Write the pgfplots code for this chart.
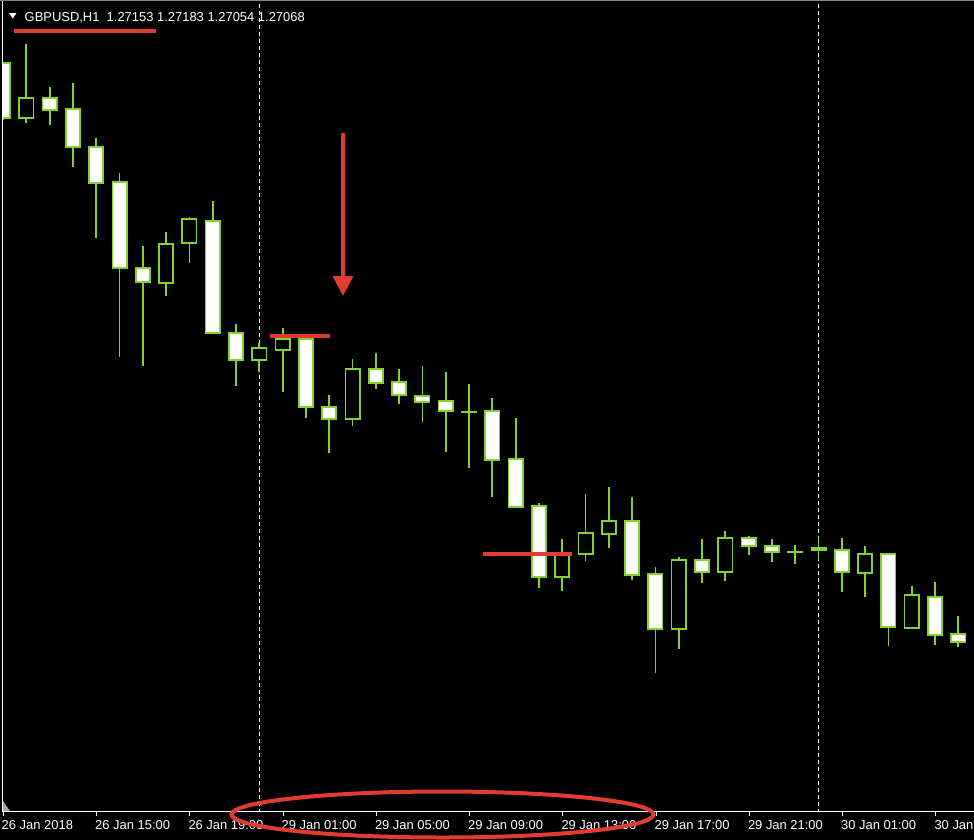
\documentclass[border=0pt]{standalone}
\usepackage{pgfplots}
\pgfplotsset{compat=1.18}
\usepackage{pgfplotstable}
\usepackage{fontspec}
\setmainfont{Liberation Sans}
\usetikzlibrary{arrows.meta}
\definecolor{cg}{RGB}{132,210,42}
\definecolor{annred}{RGB}{224,60,50}

% pixel-based candle data: x centre, high, body top, body bottom, low
\pgfplotstableread{
x      h    t    b    l
3.0    63   63   118  120
49.6   87   98   110  125
72.9   83   109  147  167
96.2   138  147  183  238
119.5  173  182  268  357
142.8  246  268  282  366
212.7  201  221  333  334
236.0  324  333  360  386
305.9  336  339  407  418
329.2  395  407  419  453
375.8  353  369  383  389
399.1  369  382  395  404
422.4  366  396  402  422
445.7  372  401  411  452
492.3  398  411  460  497
515.6  418  459  507  508
538.9  503  506  577  588
632.1  497  521  575  580
655.4  567  574  629  673
702.0  539  560  572  583
748.6  536  538  546  555
771.9  539  546  552  562
841.8  538  550  572  592
888.4  554  554  627  646
935.0  582  597  635  645
958.3  616  634  642  647
}\bear
\pgfplotstableread{
x      h    t    b    l
26.3   44   98   118  123
166.1  232  244  283  296
189.4  217  219  243  263
259.3  343  348  360  372
282.6  328  339  350  392
352.5  359  369  419  426
562.2  539  555  577  591
585.5  494  533  554  561
608.8  487  521  534  548
678.7  557  560  629  649
725.3  531  538  572  581
865.1  546  554  573  597
911.7  586  595  628  629
}\bull
\pgfplotstableread{
x      h    t    b    l
469.0  384  412  412  468
795.2  545  552  552  564
818.5  537  548  550  560
}\doji

\pgfplotsset{
  wick/.style={draw=none, mark=none, forget plot,
    error bars/.cd, y dir=plus, y explicit, error mark=none,
    error bar style={draw=cg, line width=1.8bp}},
  body/.style={draw=none, mark=none, forget plot,
    error bars/.cd, y dir=plus, y explicit, error mark=none,
    error bar style={draw=cg, line width=16bp}},
  inner/.style={draw=none, mark=none, forget plot,
    error bars/.cd, y dir=plus, y explicit, error mark=none,
    error bar style={draw=#1, line width=12.5bp}},
}
\tikzset{lbl/.style={anchor=base west, inner sep=0, text=white, font=\fontsize{13}{15}\selectfont}}

\begin{document}
\begin{tikzpicture}
\fill[black] (0,0) rectangle (974bp,840bp);
\begin{axis}[at={(0,0)}, anchor=south west, scale only axis,
  width=974bp, height=840bp,
  xmin=0, xmax=974, ymin=0, ymax=840, y dir=reverse,
  hide axis, clip=true]

% day separators
\draw[white, line width=1bp, dash pattern=on 4bp off 3bp] (259.5,4) -- (259.5,811);
\draw[white, line width=1bp, dash pattern=on 4bp off 3bp] (818.5,4) -- (818.5,811);

% wicks
\addplot[wick] table[x=x, y=h, y error expr=\thisrow{l}-\thisrow{h}] {\bear};
\addplot[wick] table[x=x, y=h, y error expr=\thisrow{l}-\thisrow{h}] {\bull};
\addplot[wick] table[x=x, y=h, y error expr=\thisrow{l}-\thisrow{h}] {\doji};
% bodies
\addplot[body] table[x=x, y expr=\thisrow{t}-1, y error expr=\thisrow{b}-\thisrow{t}+2] {\bear};
\addplot[body] table[x=x, y expr=\thisrow{t}-1, y error expr=\thisrow{b}-\thisrow{t}+2] {\bull};
\addplot[body] table[x=x, y expr=\thisrow{t}-1, y error expr=\thisrow{b}-\thisrow{t}+2] {\doji};
\addplot[inner=white] table[x=x, y expr=\thisrow{t}+0.75, y error expr=\thisrow{b}-\thisrow{t}-1.5] {\bear};
\addplot[inner=black] table[x=x, y expr=\thisrow{t}+0.75, y error expr=\thisrow{b}-\thisrow{t}-1.5] {\bull};

% frame
\fill[black] (0,0) rectangle (2.5,811);
\draw[white, line width=1.2bp] (2.5,0) -- (2.5,811.5) -- (974,811.5);
\draw[gray, line width=1.2bp] (0,0.6) -- (974,0.6);
\fill[gray!70] (3,801) -- (3,811) -- (10,811) -- cycle;
\draw[white, line width=1bp]
  (3,811.5) -- (3,815.5) (96.5,811.5) -- (96.5,815.5) (189.8,811.5) -- (189.8,815.5)
  (283,811.5) -- (283,815.5) (376.3,811.5) -- (376.3,815.5) (469.5,811.5) -- (469.5,815.5)
  (562.8,811.5) -- (562.8,815.5) (656,811.5) -- (656,815.5) (749.3,811.5) -- (749.3,815.5)
  (842.5,811.5) -- (842.5,815.5) (935.8,811.5) -- (935.8,815.5);
\node[lbl] at (1.5,829.5) {26 Jan 2018};
\node[lbl] at (95,829.5) {26 Jan 15:00};
\node[lbl] at (188.3,829.5) {26 Jan 19:00};
\node[lbl] at (281.5,829.5) {29 Jan 01:00};
\node[lbl] at (374.8,829.5) {29 Jan 05:00};
\node[lbl] at (468,829.5) {29 Jan 09:00};
\node[lbl] at (561.3,829.5) {29 Jan 13:00};
\node[lbl] at (654.5,829.5) {29 Jan 17:00};
\node[lbl] at (747.8,829.5) {29 Jan 21:00};
\node[lbl] at (841,829.5) {30 Jan 01:00};
\node[lbl] at (934.3,829.5) {30 Jan};

% title
\fill[white] (9,13) -- (16.5,13) -- (12.75,18.5) -- cycle;
\node[lbl] at (24.5,21.7) {GBPUSD,H1\ \ 1.27153 1.27183 1.27054 1.27068};

% annotations
\draw[annred, line width=4bp] (13.5,31) -- (156,31);
\draw[annred, line width=4bp] (270,336) -- (330,336);
\draw[annred, line width=4bp] (483,553.5) -- (572,553.5);
\draw[annred, line width=3.5bp, -{Triangle[width=20bp, length=20bp]}] (343,133) -- (343,296);
\draw[annred, line width=4bp] (442.5,814.5) ellipse [x radius=211, y radius=23];
\end{axis}
\pgfresetboundingbox
\path[use as bounding box] (0,0) rectangle (974bp,840bp);
\end{tikzpicture}
\end{document}
